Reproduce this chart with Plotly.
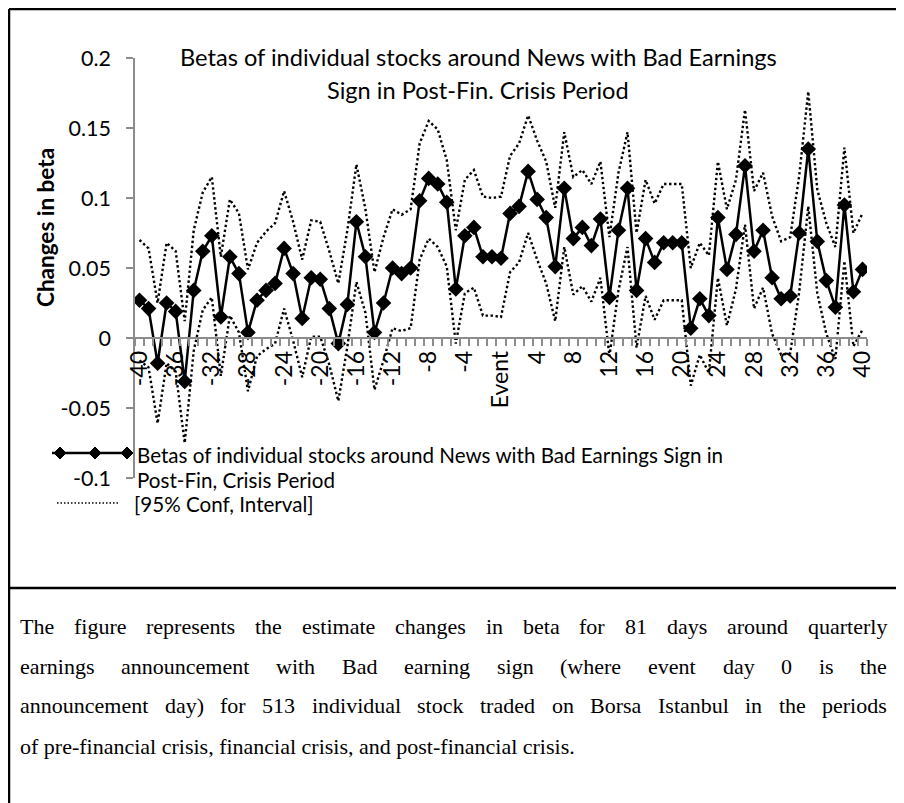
import plotly.graph_objects as go

days = list(range(-40, 41))

beta = [0.027, 0.021, -0.018, 0.025, 0.019, -0.031, 0.034, 0.062, 0.073, 0.015,
        0.058, 0.046, 0.004, 0.027, 0.034, 0.039, 0.064, 0.046, 0.014, 0.043,
        0.042, 0.021, -0.004, 0.024, 0.083, 0.058, 0.004, 0.025, 0.050, 0.046,
        0.050, 0.098, 0.114, 0.110, 0.097, 0.035, 0.073, 0.079, 0.058, 0.058,
        0.057, 0.089, 0.094, 0.119, 0.099, 0.086, 0.051, 0.107, 0.071, 0.079,
        0.066, 0.085, 0.029, 0.077, 0.107, 0.034, 0.071, 0.054, 0.068, 0.068,
        0.068, 0.007, 0.028, 0.016, 0.086, 0.049, 0.074, 0.123, 0.062, 0.077,
        0.043, 0.028, 0.030, 0.075, 0.135, 0.069, 0.041, 0.022, 0.095, 0.033,
        0.049]

upper = [0.070, 0.064, 0.025, 0.068, 0.062, 0.012, 0.077, 0.104, 0.115, 0.058,
         0.099, 0.089, 0.049, 0.068, 0.076, 0.082, 0.105, 0.083, 0.056, 0.084,
         0.083, 0.062, 0.039, 0.077, 0.124, 0.092, 0.047, 0.072, 0.092, 0.088,
         0.092, 0.139, 0.155, 0.149, 0.127, 0.077, 0.113, 0.120, 0.101, 0.100,
         0.101, 0.130, 0.139, 0.159, 0.141, 0.126, 0.093, 0.147, 0.115, 0.120,
         0.110, 0.126, 0.072, 0.118, 0.147, 0.075, 0.113, 0.096, 0.110, 0.110,
         0.110, 0.050, 0.068, 0.059, 0.126, 0.092, 0.113, 0.163, 0.105, 0.118,
         0.087, 0.069, 0.072, 0.116, 0.176, 0.106, 0.082, 0.065, 0.136, 0.075,
         0.089]

lower = [-0.016, -0.021, -0.061, -0.018, -0.024, -0.075, -0.009, 0.020, 0.029, -0.027,
         0.016, 0.004, -0.038, -0.013, -0.008, -0.004, 0.021, -0.002, -0.028, 0.001,
         0.001, -0.019, -0.045, -0.006, 0.040, 0.018, -0.037, -0.016, 0.007, 0.005,
         0.007, 0.056, 0.071, 0.065, 0.051, -0.004, 0.032, 0.036, 0.016, 0.016,
         0.015, 0.047, 0.054, 0.075, 0.056, 0.039, 0.012, 0.065, 0.031, 0.037,
         0.026, 0.043, -0.013, 0.034, 0.065, -0.007, 0.030, 0.013, 0.027, 0.027,
         0.027, -0.034, -0.012, -0.025, 0.043, 0.009, 0.035, 0.081, 0.021, 0.036,
         0.003, -0.012, -0.011, 0.033, 0.094, 0.032, 0.003, -0.015, 0.055, -0.006,
         0.006]

x_tickvals = list(range(-40, 41, 4))
x_ticktext = ["Event" if d == 0 else str(d) for d in x_tickvals]
y_tickvals = [-0.1, -0.05, 0, 0.05, 0.1, 0.15, 0.2]
y_ticktext = ["-0.1", "-0.05", "0", "0.05", "0.1", "0.15", "0.2"]

title_lines = ["Betas of individual stocks around News with Bad Earnings",
               "Sign in Post-Fin. Crisis Period"]
legend_beta = ["Betas of individual stocks around News with Bad Earnings Sign in",
               "Post-Fin, Crisis Period"]
legend_ci = "[95% Conf, Interval]"
caption = ["The figure represents the estimate changes in beta for 81 days around quarterly",
           "earnings announcement with Bad earning sign (where event day 0 is the",
           "announcement day) for 513 individual stock traded on Borsa Istanbul in the periods",
           "of pre-financial crisis, financial crisis, and post-financial crisis."]

# the page body has an 8px margin, so the figure starts at page pixel (8, 8)
OFF = 8
W, H = 904 - OFF, 803 - OFF
# plot area in page pixels: x 135..867, y 58..478
L, R, T, B = 135 - OFF, 904 - 867, 58 - OFF, 803 - 478
PW, PH = W - L - R, H - T - B
FONT = "Lato, Open Sans, sans-serif"
SERIF = "Liberation Serif, Times New Roman, serif"
GREY = "#8c8c8c"


def px(x):
    # page pixel -> paper fraction
    return (x - OFF - L) / PW


def py(y):
    return (H - B - (y - OFF)) / PH


# Times New Roman advance widths (1/1000 em), used to justify the caption
TW = dict(zip("abcdefghijklmnopqrstuvwxyz",
              [444, 500, 444, 500, 444, 333, 500, 500, 278, 278, 500, 278, 778,
               500, 500, 500, 500, 333, 389, 278, 500, 500, 722, 500, 500, 444]))
TW.update(dict(zip("ABCDEFGHIJKLMNOPQRSTUVWXYZ",
                   [722, 667, 667, 722, 611, 556, 722, 722, 333, 389, 722, 611, 889,
                    722, 722, 556, 722, 667, 556, 611, 722, 722, 944, 722, 722, 611])))
TW.update({c: 500 for c in "0123456789"})
TW.update({"(": 333, ")": 333, ".": 250, ",": 250, "-": 333, " ": 250})


def word_w(w, size):
    return sum(TW.get(c, 500) for c in w) * size / 1000


def note(x, y, text, size, xanchor="left", family=FONT, angle=0):
    return dict(x=px(x), y=py(y), xref="paper", yref="paper", text=text,
                showarrow=False, xanchor=xanchor, yanchor="middle", textangle=angle,
                font=dict(family=family, size=size, color="black"))


fig = go.Figure()
fig.add_trace(go.Scatter(x=days, y=upper, mode="lines",
                         line=dict(color="black", width=2.4, dash="2.4px,2.6px")))
fig.add_trace(go.Scatter(x=days, y=lower, mode="lines",
                         line=dict(color="black", width=2.4, dash="2.4px,2.6px")))
fig.add_trace(go.Scatter(x=days, y=beta, mode="lines+markers",
                         line=dict(color="black", width=2.5),
                         marker=dict(symbol="diamond", size=12, color="black")))

ann = [
    note(478, 57, title_lines[0], 23.6, "center"),
    note(478, 90, title_lines[1], 23.6, "center"),
    note(45, 228, "<b>Changes in beta</b>", 22.5, "center", angle=-90),
    note(135, 455, legend_beta[0], 20.6),
    note(135, 480, legend_beta[1], 20.6),
    note(132, 504, legend_ci, 20.6),
]

# caption, justified between x=18 and x=885
cap_size = 22
cap_y = [626, 666, 706, 746]
for i, line in enumerate(caption):
    if i == len(caption) - 1:
        ann.append(note(18, cap_y[i], line, cap_size, family=SERIF))
        continue
    words = line.split(" ")
    widths = [word_w(w, cap_size) for w in words]
    gap = (885 - 18 - sum(widths)) / (len(words) - 1)
    xpos = 18
    for w, ww in zip(words, widths):
        ann.append(note(xpos, cap_y[i], w, cap_size, family=SERIF))
        xpos += ww + gap

shapes = []
# outer frame and divider
for x0, y0, x1, y1 in [(9, 9, 898, 9), (9, 9, 9, 803), (898, 9, 898, 803), (9, 588, 898, 588)]:
    shapes.append(dict(type="line", xref="paper", yref="paper",
                       x0=px(x0), y0=py(y0), x1=px(x1), y1=py(y1),
                       line=dict(color="black", width=2.5)))
# legend samples
shapes.append(dict(type="line", xref="paper", yref="paper",
                   x0=px(52), y0=py(453), x1=px(130), y1=py(453),
                   line=dict(color="black", width=2.5)))
for cx in [60, 95, 127]:
    d = 6
    path = "M {a},{b} L {c},{e} L {a},{f} L {g},{e} Z".format(
        a=px(cx), b=py(453 - d), c=px(cx + d), e=py(453), f=py(453 + d), g=px(cx - d))
    shapes.append(dict(type="path", xref="paper", yref="paper", path=path,
                       fillcolor="black", line=dict(color="black", width=1)))
shapes.append(dict(type="line", xref="paper", yref="paper",
                   x0=px(57), y0=py(503), x1=px(119), y1=py(503),
                   line=dict(color="black", width=1.5, dash="1.5px,2px")))

fig.update_layout(
    width=W, height=H,
    margin=dict(l=L, r=R, t=T, b=B),
    paper_bgcolor="white", plot_bgcolor="white",
    showlegend=False,
    font=dict(family=FONT, color="black", size=20),
    annotations=ann,
    shapes=shapes,
    xaxis=dict(
        range=[-40.5, 40.5], anchor="free", position=1 / 3,
        showline=True, linecolor=GREY, linewidth=1.5,
        tickmode="array", tickvals=x_tickvals, ticktext=x_ticktext,
        tickangle=-90, ticks="", ticklabelstandoff=3,
        showgrid=False, zeroline=False,
        tickfont=dict(size=23),
        minor=dict(tickmode="array", tickvals=[d - 0.5 for d in days] + [40.5],
                   ticks="outside", ticklen=7, tickwidth=1.5, tickcolor=GREY,
                   showgrid=False),
    ),
    yaxis=dict(
        range=[-0.1, 0.2], showline=True, linecolor=GREY, linewidth=1.5,
        tickmode="array", tickvals=y_tickvals, ticktext=y_ticktext,
        ticks="outside", ticklen=7, tickwidth=1.5, tickcolor=GREY,
        ticklabelstandoff=11,
        showgrid=False, zeroline=False,
        tickfont=dict(size=21.5),
    ),
)

fig.write_html("out.html")
